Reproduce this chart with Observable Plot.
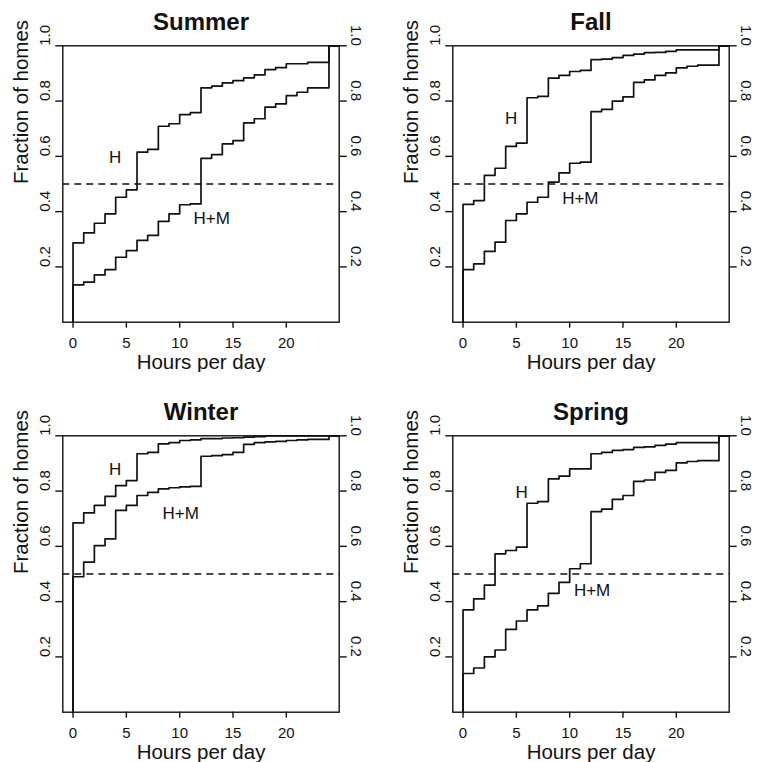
<!DOCTYPE html>
<html>
<head>
<meta charset="utf-8">
<script src="https://cdn.jsdelivr.net/npm/d3@7"></script>
<script src="https://cdn.jsdelivr.net/npm/@observablehq/plot@0.6"></script>
<style>
  html, body { margin: 0; padding: 0; background: #fff; }
  #chart { position: relative; width: 759px; height: 762px; background: #fff; }
  .panel { position: absolute; }
</style>
</head>
<body>
<div id="chart"></div>
<script>
// ---- data ----
const hours = [0,1,2,3,4,5,6,7,8,9,10,11,12,13,14,15,16,17,18,19,20,21,22,23,24];

const summerH  = [0.287,0.323,0.358,0.392,0.452,0.479,0.615,0.625,0.709,0.718,0.751,0.758,0.848,0.854,0.866,0.874,0.884,0.895,0.914,0.921,0.935,0.935,0.940,0.940,1.0];
const summerHM = [0.135,0.145,0.171,0.190,0.235,0.259,0.296,0.314,0.365,0.392,0.425,0.428,0.593,0.606,0.645,0.657,0.721,0.736,0.778,0.790,0.820,0.832,0.848,0.848,1.0];

const fallH    = [0.426,0.440,0.531,0.557,0.636,0.648,0.812,0.817,0.883,0.893,0.907,0.911,0.950,0.952,0.957,0.965,0.970,0.975,0.976,0.980,0.985,0.985,0.985,0.985,1.0];
const fallHM   = [0.190,0.211,0.256,0.290,0.368,0.392,0.434,0.452,0.507,0.540,0.575,0.579,0.762,0.770,0.800,0.815,0.868,0.877,0.893,0.902,0.920,0.926,0.930,0.930,1.0];

const winterH  = [0.685,0.721,0.748,0.781,0.820,0.838,0.935,0.940,0.971,0.975,0.983,0.985,0.990,0.990,0.992,0.993,0.995,0.997,1.0,1.0,1.0,1.0,1.0,1.0,1.0];
const winterHM = [0.490,0.543,0.603,0.627,0.730,0.748,0.784,0.795,0.808,0.812,0.815,0.817,0.926,0.928,0.932,0.940,0.969,0.975,0.978,0.980,0.983,0.985,0.987,0.987,1.0];

const springH  = [0.370,0.410,0.460,0.573,0.585,0.597,0.756,0.762,0.844,0.854,0.880,0.880,0.935,0.940,0.947,0.950,0.958,0.960,0.965,0.970,0.975,0.975,0.975,0.975,1.0];
const springHM = [0.140,0.160,0.200,0.225,0.300,0.330,0.370,0.385,0.430,0.470,0.519,0.537,0.726,0.735,0.770,0.784,0.835,0.840,0.868,0.875,0.902,0.907,0.910,0.910,1.0];

const seasons = ["Summer", "Fall", "Winter", "Spring"];
const seriesNames = ["H", "H+M"];
// label anchor positions (hour, fraction) per season for H and H+M
const labelHour = { Summer: [3.96, 13.0], Fall: [4.5, 11.0], Winter: [3.96, 10.1], Spring: [5.5, 12.1] };
const labelFrac = { Summer: [0.596, 0.375], Fall: [0.736, 0.448], Winter: [0.877, 0.719], Spring: [0.796, 0.44] };

const xTicks = [0, 5, 10, 15, 20];
const yTicks = [0.2, 0.4, 0.6, 0.8, 1.0];
const refLine = 0.5;
const xLabel = "Hours per day";
const yLabel = "Fraction of homes";

const seasonSeries = {
  Summer: [summerH, summerHM],
  Fall: [fallH, fallHM],
  Winter: [winterH, winterHM],
  Spring: [springH, springHM]
};

// ---- drawing ----
const FONT = "'Liberation Sans', Arial, Helvetica, sans-serif";
const INK = "#111";
const xDomain = [-0.96, 24.96];
const positions = { Summer: [0, 0], Fall: [390, 0], Winter: [0, 390], Spring: [390, 390] };

function stepData(vals) {
  const pts = [{ hour: 0, frac: 0 }];
  hours.forEach((h, i) => pts.push({ hour: h, frac: vals[i] }));
  pts.push({ hour: xDomain[1], frac: vals[vals.length - 1] });
  return pts;
}

function panel(season) {
  const [s1, s2] = seasonSeries[season];
  const labels = seriesNames.map((n, i) => ({ name: n, hour: labelHour[season][i], frac: labelFrac[season][i] }));
  return Plot.plot({
    width: 369,
    height: 372,
    marginLeft: 62.3,
    marginRight: 30.3,
    marginTop: 45.3,
    marginBottom: 50.3,
    style: { fontFamily: FONT, fontSize: "15px", color: INK, background: "#fff" },
    x: { domain: xDomain, axis: null },
    y: { domain: [0, 1], axis: null },
    marks: [
      Plot.ruleY([refLine], { stroke: INK, strokeWidth: 1.4, strokeDasharray: "7,5" }),
      Plot.line(stepData(s1), { x: "hour", y: "frac", curve: "step-after", stroke: INK, strokeWidth: 1.7 }),
      Plot.line(stepData(s2), { x: "hour", y: "frac", curve: "step-after", stroke: INK, strokeWidth: 1.7 }),
      Plot.frame({ stroke: INK, strokeWidth: 1.4 }),
      Plot.axisX({ ticks: xTicks, tickSize: 6, tickFormat: () => "", label: null, stroke: INK, strokeWidth: 1.4 }),
      Plot.text(xTicks, { x: d => d, text: d => String(d), frameAnchor: "bottom", dy: 21, lineAnchor: "middle", fontSize: 15, fill: INK }),
      Plot.axisY({ anchor: "left", ticks: yTicks, tickSize: 7, tickFormat: () => "", label: null, stroke: INK, strokeWidth: 1.4 }),
      Plot.axisY({ anchor: "right", ticks: yTicks, tickSize: 7, tickFormat: () => "", label: null, stroke: INK, strokeWidth: 1.4 }),
      Plot.text(yTicks, { y: d => d, text: d => d.toFixed(1), frameAnchor: "left", dx: -18, rotate: -90, lineAnchor: "middle", fontSize: 15, fill: INK }),
      Plot.text(yTicks, { y: d => d, text: d => d.toFixed(1), frameAnchor: "right", dx: 17, rotate: 90, lineAnchor: "middle", fontSize: 15, fill: INK }),
      Plot.text(labels, { x: "hour", y: "frac", text: "name", fontSize: 17, fill: INK, lineAnchor: "middle" }),
      Plot.text([season], { frameAnchor: "top", dy: -23, lineAnchor: "middle", fontSize: 24, fontWeight: "bold", fill: INK }),
      Plot.text([xLabel], { frameAnchor: "bottom", dy: 40, lineAnchor: "middle", fontSize: 20.5, fill: INK }),
      Plot.text([yLabel], { frameAnchor: "left", dx: -41, rotate: -90, lineAnchor: "middle", fontSize: 20.5, fill: INK })
    ]
  });
}

const root = document.getElementById("chart");
for (const s of seasons) {
  const wrap = document.createElement("div");
  wrap.className = "panel";
  wrap.style.left = positions[s][0] + "px";
  wrap.style.top = positions[s][1] + "px";
  wrap.appendChild(panel(s));
  root.appendChild(wrap);
}
</script>
</body>
</html>
